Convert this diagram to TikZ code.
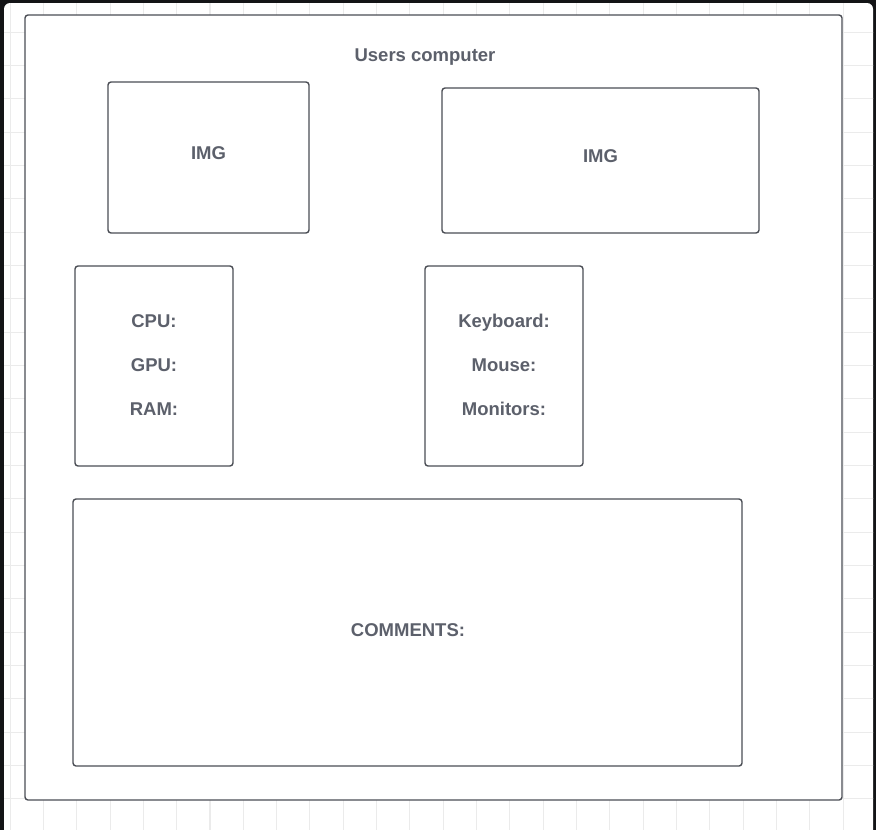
\documentclass[tikz,border=0pt]{standalone}
\usepackage{fontspec}
\setmainfont{Liberation Sans}
\begin{document}
\begin{tikzpicture}[x=1pt,y=-1pt,
  box/.style={draw=boxline, line width=1.4pt, rounded corners=3pt, fill=white, inner sep=0pt},
  lbl/.style={text=labeltext, font=\fontsize{18.5}{20}\selectfont\bfseries, inner sep=0pt, text height=13.2pt, text depth=0pt}]
\definecolor{boxline}{HTML}{4B4E55}
\definecolor{labeltext}{HTML}{5C606B}
\definecolor{gridline}{HTML}{EBEBEB}
\definecolor{frame}{HTML}{131416}
\useasboundingbox (0,0) rectangle (876,830);
\fill[frame] (0,0) rectangle (876,830);
\fill[white, rounded corners=6pt] (4,3) rectangle (873,836);
\begin{scope}
\clip (4,3) rectangle (873,830);
\foreach \i in {0,...,26} {
  \draw[gridline, line width=1pt] ({10+33.333*\i},0) -- ({10+33.333*\i},830);
  \draw[gridline, line width=1pt] (0,{-1.333+33.333*\i}) -- (876,{-1.333+33.333*\i});
}
\end{scope}
\node[box, minimum width=817pt, minimum height=785pt] (outer) at (433.5,407.5) {};
\node[box, minimum width=201pt, minimum height=151pt] (img1) at (208.5,157.5) {};
\node[box, minimum width=317pt, minimum height=145pt] (img2) at (600.5,160.5) {};
\node[box, minimum width=158pt, minimum height=200pt] (hw) at (154,366) {};
\node[box, minimum width=158pt, minimum height=200pt] (periph) at (504,366) {};
\node[box, minimum width=669pt, minimum height=267pt] (comm) at (407.5,632.5) {};
\node[lbl] (title) at (425,55) {Users computer};
\node[lbl] (img1t) at (208.5,153) {IMG};
\node[lbl] (img2t) at (600.5,156) {IMG};
\node[lbl] (cpu) at (154,321) {CPU:};
\node[lbl] (gpu) at (154,365) {GPU:};
\node[lbl] (ram) at (154,409) {RAM:};
\node[lbl] (kbd) at (504,321) {Keyboard:};
\node[lbl] (mouse) at (504,365) {Mouse:};
\node[lbl] (mon) at (504,409) {Monitors:};
\node[lbl] (commt) at (408,630) {COMMENTS:};
\end{tikzpicture}
\end{document}
